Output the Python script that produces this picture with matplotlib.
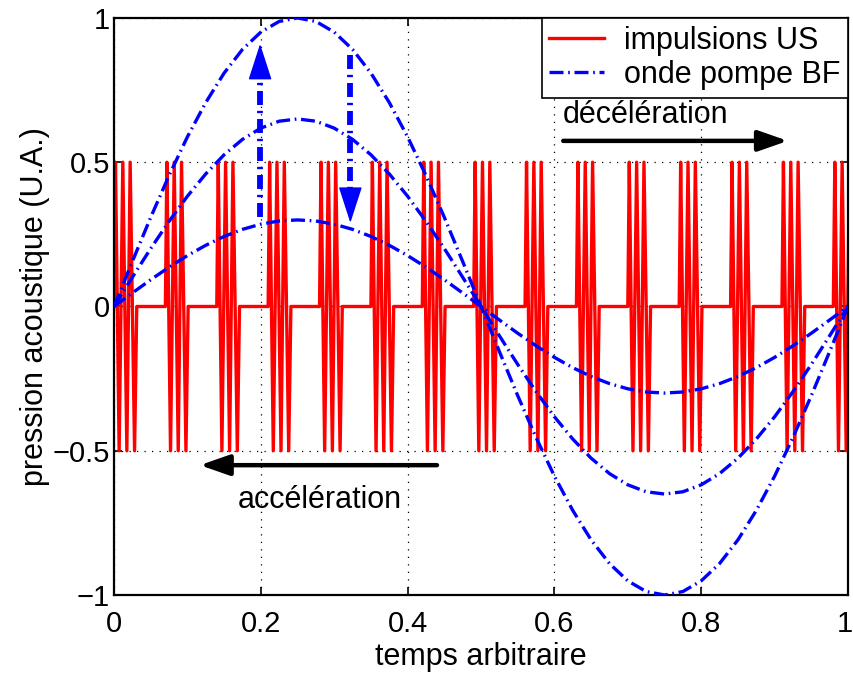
import numpy as np
import matplotlib
matplotlib.use("Agg")
import matplotlib.pyplot as plt
from matplotlib.transforms import ScaledTranslation

# ==========================
# DATA
# ==========================

# start time of each ultrasound burst
burst_starts = [0.00, 0.07, 0.14, 0.21, 0.28, 0.35, 0.42, 0.49,
                0.56, 0.63, 0.70, 0.77, 0.84, 0.91, 0.98]
# shape of one burst (time offset, pressure)
burst_offsets = [0.000, 0.002, 0.007, 0.012, 0.0175, 0.022, 0.028, 0.031]
burst_values = [0.0, 0.5, -0.5, 0.5, -0.5, 0.5, -0.5, 0.0]

# low frequency pump wave (unit amplitude), read on the picture
pump_t = [0.000, 0.025, 0.050, 0.075, 0.100, 0.125, 0.150, 0.175, 0.200, 0.225,
          0.250, 0.275, 0.300, 0.325, 0.350, 0.375, 0.400, 0.425, 0.450, 0.475,
          0.500, 0.525, 0.550, 0.575, 0.600, 0.625, 0.650, 0.675, 0.700, 0.725,
          0.750, 0.775, 0.800, 0.825, 0.850, 0.875, 0.900, 0.925, 0.950, 0.975,
          1.000]
pump_shape = [0.000, 0.156, 0.309, 0.454, 0.588, 0.707, 0.809, 0.891, 0.951, 0.988,
              1.000, 0.988, 0.951, 0.891, 0.809, 0.707, 0.588, 0.454, 0.309, 0.156,
              0.000, -0.156, -0.309, -0.454, -0.588, -0.707, -0.809, -0.891, -0.951, -0.988,
              -1.000, -0.988, -0.951, -0.891, -0.809, -0.707, -0.588, -0.454, -0.309, -0.156,
              0.000]
pump_amplitudes = [1.0, 0.65, 0.3]

x_ticks = [0, 0.2, 0.4, 0.6, 0.8, 1]
x_ticklabels = ["0", "0.2", "0.4", "0.6", "0.8", "1"]
y_ticks = [-1, -0.5, 0, 0.5, 1]
y_ticklabels = ["\u22121", "\u22120.5", "0", "0.5", "1"]

# ==========================
# STYLE
# ==========================

RED = "#ff0000"
BLUE = "#0000ff"
TICK_FONT = 21
TEXT_FONT = 22
DASHDOT = (0, (4.2, 1.4, 0.5, 1.4))

plt.rcParams.update({
    "font.family": ["Liberation Sans", "DejaVu Sans"],
    "font.size": TEXT_FONT,
    "axes.linewidth": 1.6,
    "xtick.direction": "in",
    "ytick.direction": "in",
    "xtick.top": True,
    "ytick.right": True,
    "xtick.major.size": 6,
    "ytick.major.size": 6,
    "xtick.major.width": 1.2,
    "ytick.major.width": 1.2,
})

fig = plt.figure(figsize=(8.54, 6.73), dpi=100)
ax = fig.add_axes([0.1335, 0.1159, 0.8595, 0.8574])

# --------------------------
# US pulses
# --------------------------
t_us = []
p_us = []
for s in burst_starts:
    for o, v in zip(burst_offsets, burst_values):
        t_us.append(s + o)
        p_us.append(v)

ax.plot(t_us, p_us, color=RED, linewidth=2.4, label="impulsions US", zorder=2)

# --------------------------
# pump waves
# --------------------------
for i, a in enumerate(pump_amplitudes):
    ax.plot(pump_t, [a * v for v in pump_shape], color=BLUE, linewidth=2.4,
            linestyle=DASHDOT, label="onde pompe BF" if i == 0 else None,
            zorder=3)

# --------------------------
# blue amplitude arrows (dash-dot shaft + solid head)
# --------------------------
for (x0, y_start, y_base, y_tip) in [(0.199, 0.31, 0.80, 0.91),
                                      (0.322, 0.87, 0.41, 0.29)]:
    ax.plot([x0, x0], [y_start, y_base], color=BLUE, linewidth=4.2,
            linestyle=(0, (2.4, 1.0, 0.4, 1.0)), zorder=4)
    ax.annotate("", xy=(x0, y_tip), xytext=(x0, y_base),
                arrowprops=dict(arrowstyle="-|>,head_length=1.3,head_width=0.42",
                                color=BLUE, linewidth=1, shrinkA=0, shrinkB=0,
                                mutation_scale=18), zorder=4)

# --------------------------
# black arrows + texts
# --------------------------
ax.annotate("", xy=(0.918, 0.574), xytext=(0.612, 0.574),
            arrowprops=dict(arrowstyle="-|>,head_length=1.0,head_width=0.35",
                            color="black", linewidth=3.2, shrinkA=0, shrinkB=0,
                            mutation_scale=18),
            zorder=4)
ax.annotate("", xy=(0.117, -0.55), xytext=(0.44, -0.55),
            arrowprops=dict(arrowstyle="-|>,head_length=1.0,head_width=0.35",
                            color="black", linewidth=3.2, shrinkA=0, shrinkB=0,
                            mutation_scale=18),
            zorder=4)

ax.text(0.612, 0.665, "décélération", fontsize=TEXT_FONT, ha="left", va="center")
ax.text(0.28, -0.67, "accélération", fontsize=TEXT_FONT, ha="center", va="center")

# --------------------------
# axes
# --------------------------
ax.set_xlim(0, 1)
ax.set_ylim(-1, 1)
ax.set_xticks(x_ticks)
ax.set_xticklabels(x_ticklabels)
ax.set_yticks(y_ticks)
ax.set_yticklabels(y_ticklabels)
ax.tick_params(labelsize=TICK_FONT)
ax.tick_params(axis="x", pad=11)
ax.tick_params(axis="y", pad=3)
ax.grid(True, color="black", linestyle=(0, (1, 5)), linewidth=0.9)
ax.set_axisbelow(True)

# keep the last x label inside the figure
last = ax.get_xticklabels()[-1]
last.set_transform(last.get_transform() + ScaledTranslation(-3 / 100, 0, fig.dpi_scale_trans))

ax.set_xlabel("temps arbitraire", fontsize=TEXT_FONT, labelpad=3)
ax.set_ylabel("pression acoustique (U.A.)", fontsize=TEXT_FONT, labelpad=2)

leg = ax.legend(loc="upper right", borderaxespad=0, fontsize=TEXT_FONT,
                fancybox=False, framealpha=1, edgecolor="black",
                handlelength=1.8, handletextpad=0.65, borderpad=0.25,
                labelspacing=0.15)
leg.get_frame().set_linewidth(1.2)

fig.savefig("out.png", dpi=100)
